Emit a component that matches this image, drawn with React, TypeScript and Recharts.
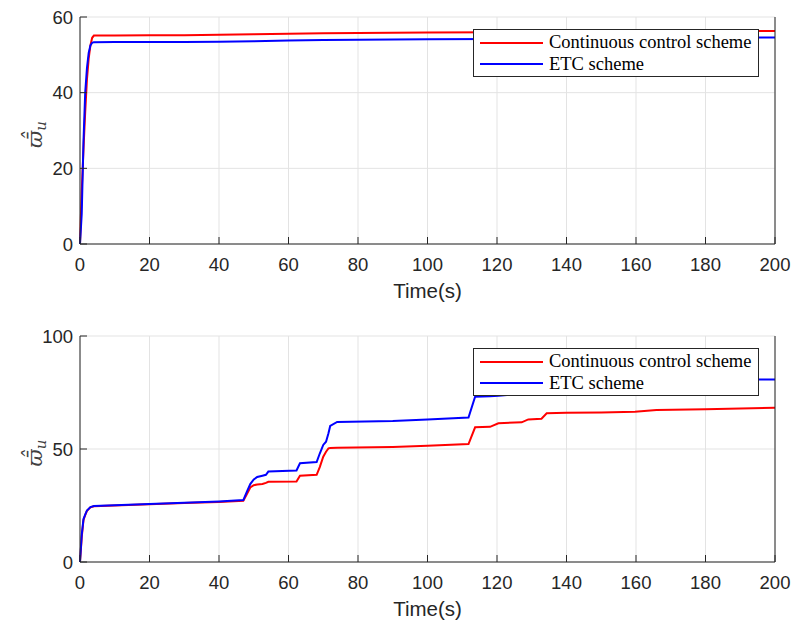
import React from "react";
import {
  LineChart,
  Line,
  XAxis,
  YAxis,
  CartesianGrid,
  Legend,
  Label,
} from "recharts";

// series names
const SERIES = ["Continuous control scheme", "ETC scheme"];
const COLORS = ["#ff0000", "#0000ff"];

// shared x ticks
const X_TICKS = [0, 20, 40, 60, 80, 100, 120, 140, 160, 180, 200];
const Y_TICKS_TOP = [0, 20, 40, 60];
const Y_TICKS_BOTTOM = [0, 50, 100];

// upper panel
const T_TOP = [0, 0.5, 1, 1.5, 2, 2.5, 3, 3.5, 4, 10, 20, 30, 40, 50, 60, 70, 80, 100, 120, 140, 160, 180, 200];
const RED_TOP = [0, 14, 25, 35, 43.5, 49, 52.5, 54.5, 55.1, 55.1, 55.15, 55.2, 55.3, 55.45, 55.6, 55.7, 55.8, 55.9, 56.0, 56.1, 56.2, 56.25, 56.3];
const BLUE_TOP = [0, 8, 27, 40, 46.5, 50.5, 52.5, 53.2, 53.35, 53.4, 53.4, 53.42, 53.45, 53.6, 53.8, 53.9, 54.0, 54.1, 54.2, 54.3, 54.4, 54.5, 54.6];

// lower panel
const T_BOT = [
  0, 0.5, 1, 1.5, 2, 3, 4, 10, 20, 30, 40, 47, 48, 49, 50, 51, 52.5, 53.5, 54.2, 62.3, 63.3, 68.1, 69, 70,
  70.8, 71.5, 72, 74, 90, 100, 111.8, 113.7, 118, 120.4, 127.1, 129, 132.8, 134.3, 140, 150, 159.7, 165.9, 180, 200,
];
const RED_BOT = [
  0, 11, 18.5, 20.8, 22.6, 24.2, 24.7, 25, 25.6, 26.1, 26.6, 27.1, 30, 33, 34, 34.3, 34.5, 35, 35.5, 35.6, 38.2, 38.6, 42, 46.6,
  48.8, 50.3, 50.4, 50.5, 50.9, 51.4, 52.2, 59.6, 59.8, 61.4, 61.8, 63.1, 63.4, 65.8, 66, 66.2, 66.5, 67.3, 67.6, 68.3,
];
const BLUE_BOT = [
  0, 12, 19, 21, 22.8, 24.3, 24.8, 25.1, 25.7, 26.2, 26.8, 27.4, 31, 34.5, 36.5, 37.6, 38.2, 38.6, 40, 40.5, 43.7, 44.2, 48, 51.8,
  53.2, 57, 60.2, 62, 62.4, 63, 63.9, 73.1, 73.3, 73.6, 74.5, 76.5, 77.2, 79.5, 80, 80.2, 80.4, 80.6, 80.7, 80.8,
];

const AX = "#262626";
const GRID = "#e3e3e3";
const SANS = "'Liberation Sans', Arial, Helvetica, sans-serif";
const SERIF = "'Liberation Serif', 'Times New Roman', serif";

function build(t: number[], a: number[], b: number[]) {
  return t.map((x, i) => ({ t: x, a: a[i], b: b[i] }));
}

const BottomTick = (p: any) => (
  <g>
    <line x1={p.x} x2={p.x} y1={p.y} y2={p.y - 7} stroke={AX} />
    <text x={p.x} y={p.y + 27} textAnchor="middle" fill={AX} fontSize={18.5} fontFamily={SANS}>
      {p.payload.value}
    </text>
  </g>
);
const TopTick = (p: any) => <line x1={p.x} x2={p.x} y1={p.y} y2={p.y + 7} stroke={AX} />;
const LeftTick = (p: any) => (
  <g>
    <line x1={p.x} x2={p.x + 7} y1={p.y} y2={p.y} stroke={AX} />
    <text x={p.x - 7} y={p.y + 6.5} textAnchor="end" fill={AX} fontSize={18.5} fontFamily={SANS}>
      {p.payload.value}
    </text>
  </g>
);
const RightTick = (p: any) => <line x1={p.x} x2={p.x - 7} y1={p.y} y2={p.y} stroke={AX} />;

const YLabel = ({ viewBox }: any) => {
  const x = 42;
  const y = viewBox.y + viewBox.height / 2 + 4;
  return (
    <text
      x={x}
      y={y}
      transform={`rotate(-90, ${x}, ${y})`}
      textAnchor="middle"
      fill="#404040"
      fontFamily="'DejaVu Serif', serif"
      fontSize={21}
    >
      <tspan fontStyle="italic">{"\u03d6\u0304\u0302"}</tspan>
      <tspan fontStyle="italic" fontSize={15} dy={4}>
        u
      </tspan>
    </text>
  );
};

const LegendBox = ({ payload }: any) => (
  <div
    style={{
      width: 286,
      height: 48,
      boxSizing: "border-box",
      border: `1px solid ${AX}`,
      background: "#fff",
      paddingTop: 2,
    }}
  >
    {(payload || []).map((p: any) => (
      <div key={p.value} style={{ height: 21.6, display: "flex", alignItems: "center" }}>
        <div style={{ marginLeft: 6, width: 63, height: 2, background: p.color }} />
        <span style={{ marginLeft: 6, fontFamily: SERIF, fontSize: 18.5, color: "#000", lineHeight: "21px" }}>
          {p.value}
        </span>
      </div>
    ))}
  </div>
);

function Panel({
  data,
  height,
  top,
  axisH,
  yTicks,
  legendTop,
  labelOffset,
}: {
  data: any[];
  height: number;
  top: number;
  axisH: number;
  yTicks: number[];
  legendTop: number;
  labelOffset: number;
}) {
  const domain = [yTicks[0], yTicks[yTicks.length - 1]];
  return (
    <LineChart width={795} height={height} data={data} margin={{ top, right: 0, bottom: 0, left: 0 }}>
      <CartesianGrid stroke={GRID} />
      <XAxis
        dataKey="t"
        type="number"
        domain={[0, 200]}
        ticks={X_TICKS}
        interval={0}
        height={axisH}
        tickSize={0}
        tickMargin={0}
        tickLine={false}
        axisLine={{ stroke: AX }}
        tick={(p: any) => <BottomTick {...p} />}
      >
        <Label value="Time(s)" position="insideBottom" offset={labelOffset} fill={AX} fontSize={20.5} fontFamily={SANS} />
      </XAxis>
      <XAxis
        xAxisId="top"
        orientation="top"
        dataKey="t"
        type="number"
        domain={[0, 200]}
        ticks={X_TICKS}
        interval={0}
        height={0}
        tickSize={0}
        tickMargin={0}
        tickLine={false}
        axisLine={{ stroke: AX }}
        tick={(p: any) => <TopTick {...p} />}
      />
      <YAxis
        type="number"
        domain={domain}
        ticks={yTicks}
        interval={0}
        width={80}
        tickSize={0}
        tickMargin={0}
        tickLine={false}
        axisLine={{ stroke: AX }}
        tick={(p: any) => <LeftTick {...p} />}
      >
        <Label content={<YLabel />} />
      </YAxis>
      <YAxis
        yAxisId="right"
        orientation="right"
        type="number"
        domain={domain}
        ticks={yTicks}
        interval={0}
        width={20}
        tickSize={0}
        tickMargin={0}
        tickLine={false}
        axisLine={{ stroke: AX }}
        tick={(p: any) => <RightTick {...p} />}
      />
      <Line dataKey="a" name={SERIES[0]} stroke={COLORS[0]} strokeWidth={2} dot={false} type="linear" isAnimationActive={false} />
      <Line dataKey="b" name={SERIES[1]} stroke={COLORS[1]} strokeWidth={2} dot={false} type="linear" isAnimationActive={false} />
      <Legend
        layout="vertical"
        align="center"
        verticalAlign="middle"
        content={<LegendBox />}
        wrapperStyle={{ left: 473, top: legendTop, width: 286, height: 48 }}
      />
    </LineChart>
  );
}

export default function App() {
  return (
    <div style={{ position: "absolute", left: 0, top: 0, width: 795, height: 623, background: "#fff" }}>
      <Panel
        data={build(T_TOP, RED_TOP, BLUE_TOP)}
        height={312}
        top={17}
        axisH={68}
        yTicks={Y_TICKS_TOP}
        legendTop={29}
        labelOffset={14}
      />
      <Panel
        data={build(T_BOT, RED_BOT, BLUE_BOT)}
        height={311}
        top={24}
        axisH={61}
        yTicks={Y_TICKS_BOTTOM}
        legendTop={36}
        labelOffset={7}
      />
    </div>
  );
}
